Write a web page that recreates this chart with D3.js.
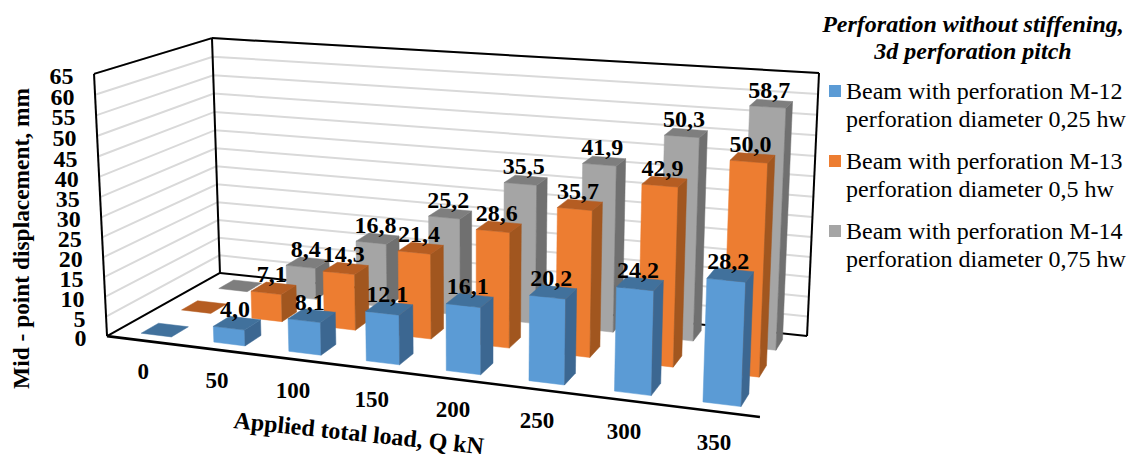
<!DOCTYPE html>
<html><head><meta charset="utf-8">
<script src="https://cdn.jsdelivr.net/npm/d3@7/dist/d3.min.js"></script>
<style>html,body{margin:0;padding:0;background:#fff}svg{display:block}text{font-family:"Liberation Serif","Times New Roman",serif;fill:#000}</style>
</head><body><svg id="c" width="1127" height="456"></svg>
<script>
const loads = ["0","50","100","150","200","250","300","350"];
const ticks = [0,5,10,15,20,25,30,35,40,45,50,55,60,65];
const seriesNames = ["M-12","M-13","M-14"];
const m12 = [0,4.0,8.1,12.1,16.1,20.2,24.2,28.2];
const m13 = [0,7.1,14.3,21.4,28.6,35.7,42.9,50.0];
const m14 = [0,8.4,16.8,25.2,35.5,41.9,50.3,58.7];
const seriesValues = [m12,m13,m14];
const faceColors = [["#5B9BD5","#3C6791","#41719C"],["#ED7D31","#A1561F","#B55D22"],["#A5A5A5","#707070","#7E7E7E"]];
const legendLines = [["Beam with perforation M-12","perforation diameter 0,25 hw"],["Beam with perforation M-13","perforation diameter 0,5 hw"],["Beam with perforation M-14","perforation diameter 0,75 hw"]];
const legendTitle = ["Perforation without stiffening,","3d perforation pitch"];
const yTitle = "Mid - point displacement, mm";
const xTitle = "Applied total load, Q kN";

// camera calibration: unit chart box corners [x,z,y] -> screen
const calib = [[0,0,0,107,336],[0,1,0,220,273],[1,1,0,807,336],[1,0,0,760,417],[0,0,1,94,74],[0,1,1,212,38],[1,1,1,819,73]];
function solveCamera(pts){
  const rows=[],rhs=[];
  pts.forEach(([x,z,y,u,v])=>{
    rows.push([x,z,y,1,0,0,0,0,-u*x,-u*z,-u*y]);rhs.push(u);
    rows.push([0,0,0,0,x,z,y,1,-v*x,-v*z,-v*y]);rhs.push(v);
  });
  const n=11,A=d3.range(n).map(i=>d3.range(n+1).map(j=>0));
  rows.forEach((r,k)=>{for(let i=0;i<n;i++){for(let j=0;j<n;j++)A[i][j]+=r[i]*r[j];A[i][n]+=r[i]*rhs[k];}});
  for(let i=0;i<n;i++){
    let p=i;for(let k=i+1;k<n;k++)if(Math.abs(A[k][i])>Math.abs(A[p][i]))p=k;
    [A[i],A[p]]=[A[p],A[i]];
    for(let k=0;k<n;k++){if(k===i)continue;const f=A[k][i]/A[i][i];for(let j=i;j<=n;j++)A[k][j]-=f*A[i][j];}
  }
  return A.map((r,i)=>r[n]/r[i]);
}
const P=solveCamera(calib);
function project(x,z,y){
  const w=P[8]*x+P[9]*z+P[10]*y+1;
  return [(P[0]*x+P[1]*z+P[2]*y+P[3])/w,(P[4]*x+P[5]*z+P[6]*y+P[7])/w];
}
const xScale=d3.scaleBand().domain(loads).range([0.008,1.002]).paddingInner(0.58).paddingOuter(0.27);
const zScale=d3.scaleBand().domain(seriesNames).range([0,1]).paddingInner(0.58).paddingOuter(0.24);
const yScale=d3.scaleLinear().domain([0,65]).range([0,1]);
const svg=d3.select("#c");
const line=d3.line();
const poly=pts=>line(pts)+"Z";

// gridlines
const grid=svg.append("g").attr("fill","none").attr("stroke","#D9D9D9").attr("stroke-width",2);
ticks.slice(1).forEach(t=>{
  const y=yScale(t);
  grid.append("path").attr("d",line([project(0,0,y),project(0,1,y),project(1,1,y)]));
});
// frame
const frame=svg.append("g").attr("fill","none").attr("stroke","#000").attr("stroke-width",2);
[[[0,0,0],[0,0,1]],[[0,0,1],[0,1,1]],[[0,1,1],[0,1,0]],[[0,1,1],[1,1,1]],[[1,1,1],[1,1,0]],[[0,0,0],[0,1,0]],[[0,1,0],[1,1,0]]]
  .forEach(s=>frame.append("path").attr("d",line(s.map(p=>project(...p)))));
frame.append("path").attr("stroke-width",2.6).attr("d",line([[0,0,0],[1,0,0]].map(p=>project(...p))));
// bars, back to front
const bars=svg.append("g");
for(let s=2;s>=0;s--){
  loads.forEach((c,i)=>{
    const v=seriesValues[s][i],x0=xScale(c),x1=x0+xScale.bandwidth(),z0=zScale(seriesNames[s]),z1=z0+zScale.bandwidth(),y=yScale(v);
    const g=bars.append("g");
    const face=(pts,col)=>g.append("path").attr("d",poly(pts.map(p=>project(...p)))).attr("fill",col).attr("stroke",col).attr("stroke-width",0.5);
    if(v>0){
      face([[x0,z0,0],[x1,z0,0],[x1,z0,y],[x0,z0,y]],faceColors[s][0]);
      face([[x1,z0,0],[x1,z1,0],[x1,z1,y],[x1,z0,y]],faceColors[s][1]);
    }
    face([[x0,z0,y],[x1,z0,y],[x1,z1,y],[x0,z1,y]],faceColors[s][2]);
  });
}
// data labels
const labels=svg.append("g").attr("font-size",24).attr("font-weight","bold").attr("text-anchor","middle");
for(let s=2;s>=0;s--){
  loads.forEach((c,i)=>{
    const v=seriesValues[s][i];
    if(v===0)return;
    const [px,py]=project(xScale(c)+xScale.bandwidth()/2,zScale(seriesNames[s])+zScale.bandwidth()/2,yScale(v));
    labels.append("text").attr("x",px-2).attr("y",py-6).text(v.toFixed(1).replace(".",","));
  });
}
// y ticks
const yt=svg.append("g").attr("font-size",24).attr("font-weight","bold").attr("text-anchor","end");
ticks.forEach(t=>{
  const [px,py]=project(0,0,yScale(t));
  yt.append("text").attr("x",px-20.5).attr("y",py+10).text(t);
});
// x ticks
const xt=svg.append("g").attr("font-size",23).attr("font-weight","bold").attr("text-anchor","middle");
loads.forEach(c=>{
  const [px,py]=project(xScale(c)+xScale.bandwidth()/2,0,0);
  xt.append("text").attr("x",px-3).attr("y",py+38).text(c);
});
// axis titles
svg.append("text").attr("transform","translate(29,238.5) rotate(-90)").attr("text-anchor","middle").attr("font-size",23.4).attr("font-weight","bold").text(yTitle);
svg.append("text").attr("transform","translate(233,428) rotate(6)").attr("font-size",24).attr("font-weight","bold").text(xTitle);
// legend
const lg=svg.append("g");
legendTitle.forEach((t,i)=>lg.append("text").attr("x",973).attr("y",[32,59][i]).attr("text-anchor","middle").attr("font-size",24).attr("font-weight","bold").attr("font-style","italic").text(t));
legendLines.forEach((ls,i)=>{
  const y0=85+70*i;
  lg.append("rect").attr("x",829).attr("y",y0).attr("width",12).attr("height",12).attr("fill",faceColors[i][0]);
  ls.forEach((t,j)=>lg.append("text").attr("x",846).attr("y",y0+13.5+28.5*j).attr("font-size",24).text(t));
});
</script></body></html>
